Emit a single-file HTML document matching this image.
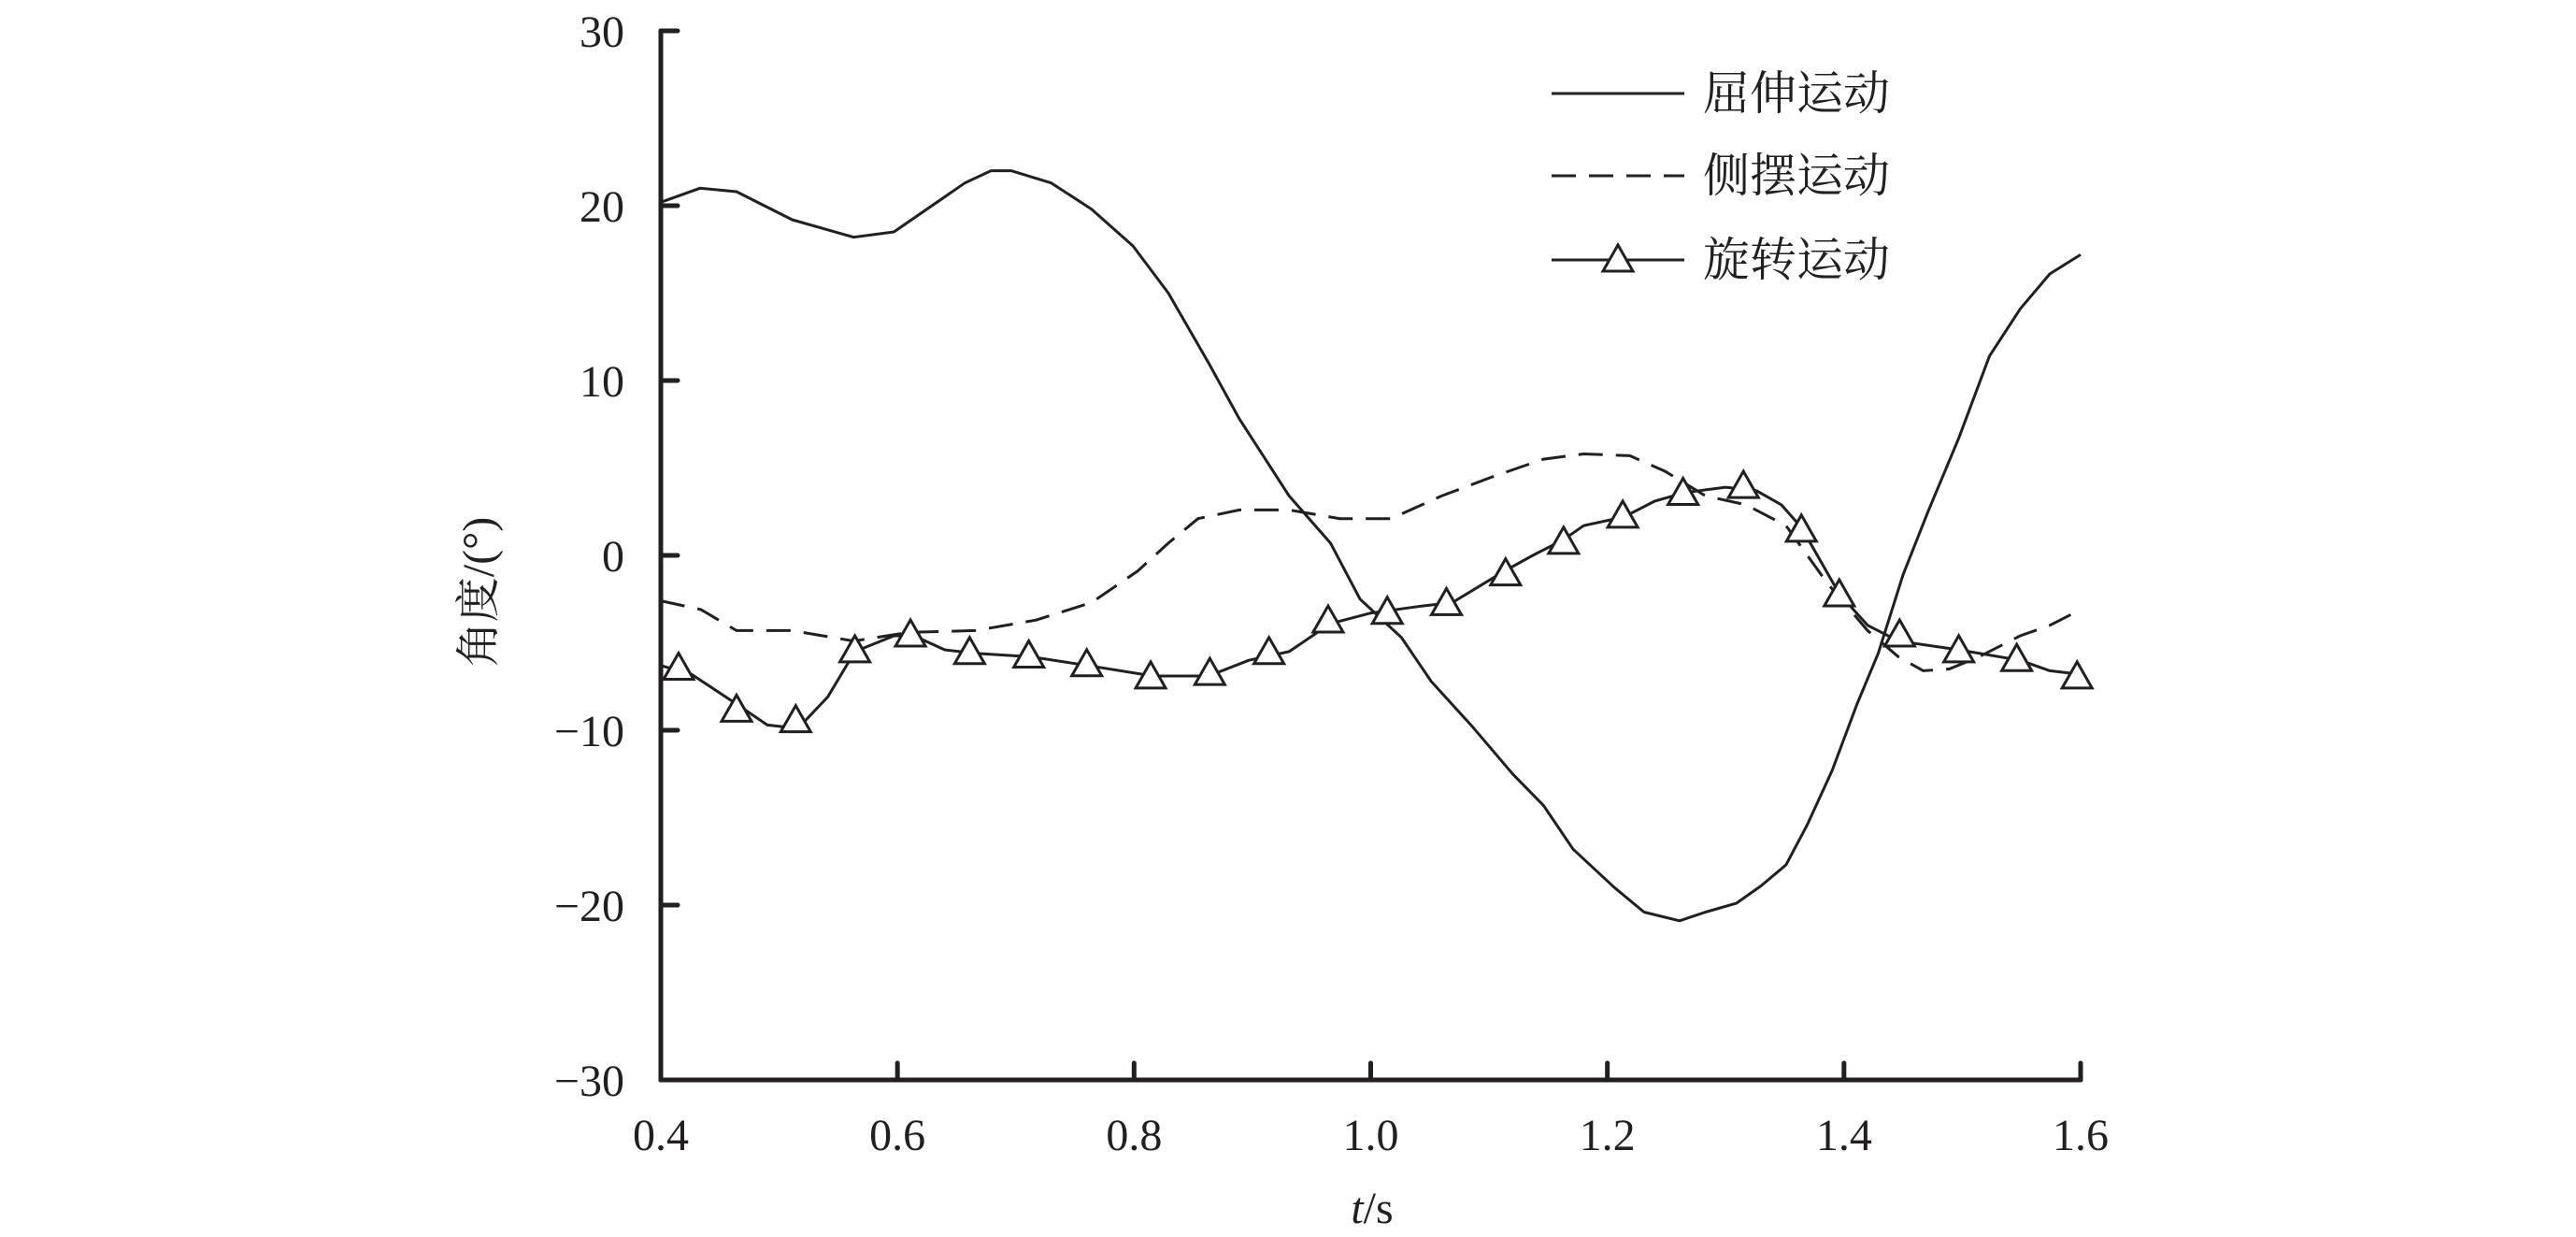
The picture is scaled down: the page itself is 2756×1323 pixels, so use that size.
<!DOCTYPE html>
<html><head><meta charset="utf-8"><style>
html,body{margin:0;padding:0;background:#fff;}
svg{display:block;}
text{font-family:"Liberation Serif","Noto Serif CJK SC",serif;fill:#231f20;}
</style></head><body>
<svg id="chart" width="2756" height="1323" viewBox="0 0 2756 1323" xmlns="http://www.w3.org/2000/svg">
<g id="axes"></g>
<g id="series"></g>
<g id="legend">
  <line x1="1660" y1="100" x2="1802" y2="100" stroke="#231f20" stroke-width="3"/>
  <text x="1822" y="117" font-size="50">屈伸运动</text>
  <line x1="1660" y1="188" x2="1802" y2="188" stroke="#231f20" stroke-width="3" stroke-dasharray="26,14"/>
  <text x="1822" y="205" font-size="50">侧摆运动</text>
  <line x1="1660" y1="278" x2="1802" y2="278" stroke="#231f20" stroke-width="3"/>
  <polygon points="1731,262 1747,290 1715,290" fill="#fff" stroke="#231f20" stroke-width="3"/>
  <text x="1822" y="295" font-size="50">旋转运动</text>
</g>
<text transform="translate(528,633) rotate(-90)" text-anchor="middle" font-size="48">角度/(°)</text>
<text x="1468" y="1308" text-anchor="middle" font-size="48"><tspan font-style="italic">t</tspan>/s</text>
</svg>
<script>
const xTicks = [0.4, 0.6, 0.8, 1.0, 1.2, 1.4, 1.6];
const xTickLabels = ["0.4", "0.6", "0.8", "1.0", "1.2", "1.4", "1.6"];
const yTicks = [30, 20, 10, 0, -10, -20, -30];
const yTickLabels = ["30", "20", "10", "0", "\u221210", "\u221220", "\u221230"];

const flexT = [0.4,0.433,0.464,0.511,0.563,0.597,0.657,0.679,0.696,0.73,0.764,0.799,0.829,0.863,0.889,0.931,0.966,0.991,1.026,1.051,1.086,1.12,1.146,1.171,1.206,1.231,1.261,1.283,1.309,1.33,1.351,1.369,1.39,1.411,1.429,1.45,1.471,1.497,1.523,1.549,1.574,1.6];
const flexV = [20.2,21.0,20.8,19.2,18.2,18.5,21.3,22.0,22.0,21.3,19.8,17.7,15.0,11.0,7.8,3.4,0.7,-2.5,-4.7,-7.2,-9.8,-12.5,-14.3,-16.8,-19.0,-20.4,-20.9,-20.4,-19.9,-18.9,-17.7,-15.4,-12.3,-8.5,-5.6,-1.1,2.5,6.7,11.4,14.1,16.1,17.2];

const latT = [0.4,0.434,0.464,0.511,0.563,0.61,0.666,0.717,0.764,0.803,0.829,0.854,0.889,0.931,0.974,1.017,1.06,1.103,1.146,1.18,1.219,1.249,1.283,1.317,1.351,1.386,1.42,1.446,1.467,1.489,1.514,1.549,1.574,1.6];
const latV = [-2.6,-3.1,-4.3,-4.3,-4.9,-4.4,-4.3,-3.7,-2.7,-0.9,0.7,2.1,2.6,2.6,2.1,2.1,3.4,4.5,5.5,5.8,5.7,4.8,3.4,2.9,1.7,-1.6,-4.3,-5.8,-6.6,-6.5,-5.8,-4.6,-4.0,-3.1];

const rotT = [0.4,0.426,0.464,0.49,0.503,0.52,0.541,0.564,0.597,0.614,0.64,0.666,0.713,0.761,0.816,0.863,0.897,0.931,0.966,1.0,1.043,1.069,1.113,1.137,1.163,1.18,1.214,1.24,1.266,1.3,1.326,1.347,1.364,1.396,1.42,1.446,1.497,1.549,1.574,1.6];
const rotV = [-6.3,-6.8,-8.5,-9.7,-9.8,-9.6,-8.1,-5.5,-4.6,-4.6,-5.4,-5.6,-5.8,-6.3,-6.9,-6.9,-6.0,-5.5,-3.9,-3.3,-2.9,-2.7,-0.9,0,0.9,1.7,2.2,3.1,3.6,3.9,3.7,2.9,1.6,-2.2,-4.0,-4.9,-5.4,-6.0,-6.6,-6.8];

const markT = [0.415,0.464,0.514,0.564,0.611,0.661,0.711,0.76,0.814,0.864,0.914,0.964,1.014,1.064,1.114,1.163,1.213,1.264,1.315,1.364,1.396,1.447,1.497,1.546,1.597];
const markV = [-6.5,-8.9,-9.5,-5.5,-4.6,-5.6,-5.8,-6.3,-7.0,-6.8,-5.6,-3.8,-3.3,-2.8,-1.1,0.7,2.2,3.5,3.9,1.4,-2.3,-4.6,-5.5,-6.0,-7.0];

const X0 = 707, X1 = 2226, Y0 = 1155, Y1 = 33;
const xMin = 0.4, xMax = 1.6, yMin = -30, yMax = 30;
function sx(t){ return X0 + (t - xMin) / (xMax - xMin) * (X1 - X0); }
function sy(v){ return Y0 - (v - yMin) / (yMax - yMin) * (Y0 - Y1); }
const NS = "http://www.w3.org/2000/svg";
function mk(tag, attrs, parent){
  const e = document.createElementNS(NS, tag);
  for (const k in attrs) e.setAttribute(k, attrs[k]);
  parent.appendChild(e);
  return e;
}
const axes = document.getElementById('axes');
const series = document.getElementById('series');

const yAxis = mk('line', {x1:X0, y1:Y1, x2:X0, y2:Y0, stroke:'#231f20', 'stroke-width':5, 'stroke-linecap':'round'}, axes);


const xAxis = mk('line', {x1:X0, y1:Y0, x2:X1, y2:Y0, stroke:'#231f20', 'stroke-width':5, 'stroke-linecap':'round'}, axes);



xTicks.forEach((t, i) => {
  const x = sx(t);
  const tk = mk('line', {x1:x, y1:Y0, x2:x, y2:Y0-18, stroke:'#231f20', 'stroke-width':5, 'stroke-linecap':'round'}, axes);
  
  
  const lb = mk('text', {x:x, y:1230, 'text-anchor':'middle', 'font-size':48}, axes);
  lb.textContent = xTickLabels[i];
  
  
});
yTicks.forEach((v, i) => {
  const y = sy(v);
  const tk = mk('line', {x1:X0, y1:y, x2:X0+18, y2:y, stroke:'#231f20', 'stroke-width':5, 'stroke-linecap':'round'}, axes);
  
  
  const lb = mk('text', {x:668, y:y+17, 'text-anchor':'end', 'font-size':48}, axes);
  lb.textContent = yTickLabels[i];
  
  
});

function pts(T, V){ return T.map((t, i) => sx(t).toFixed(1) + ',' + sy(V[i]).toFixed(1)).join(' '); }

const flex = mk('polyline', {points:pts(flexT, flexV), fill:'none', stroke:'#231f20', 'stroke-width':3, 'stroke-linejoin':'round'}, series);



const lat = mk('polyline', {points:pts(latT, latV), fill:'none', stroke:'#231f20', 'stroke-width':3, 'stroke-dasharray':'26,14'}, series);



const rot = mk('polyline', {points:pts(rotT, rotV), fill:'none', stroke:'#231f20', 'stroke-width':3, 'stroke-linejoin':'round'}, series);



markT.forEach((t, i) => {
  const cx = sx(t), cy = sy(markV[i]);
  const p = mk('polygon', {points:`${cx},${cy-17} ${cx+16},${cy+11} ${cx-16},${cy+11}`, fill:'#fff', stroke:'#231f20', 'stroke-width':3}, series);
  
  
});
</script>
</body></html>
